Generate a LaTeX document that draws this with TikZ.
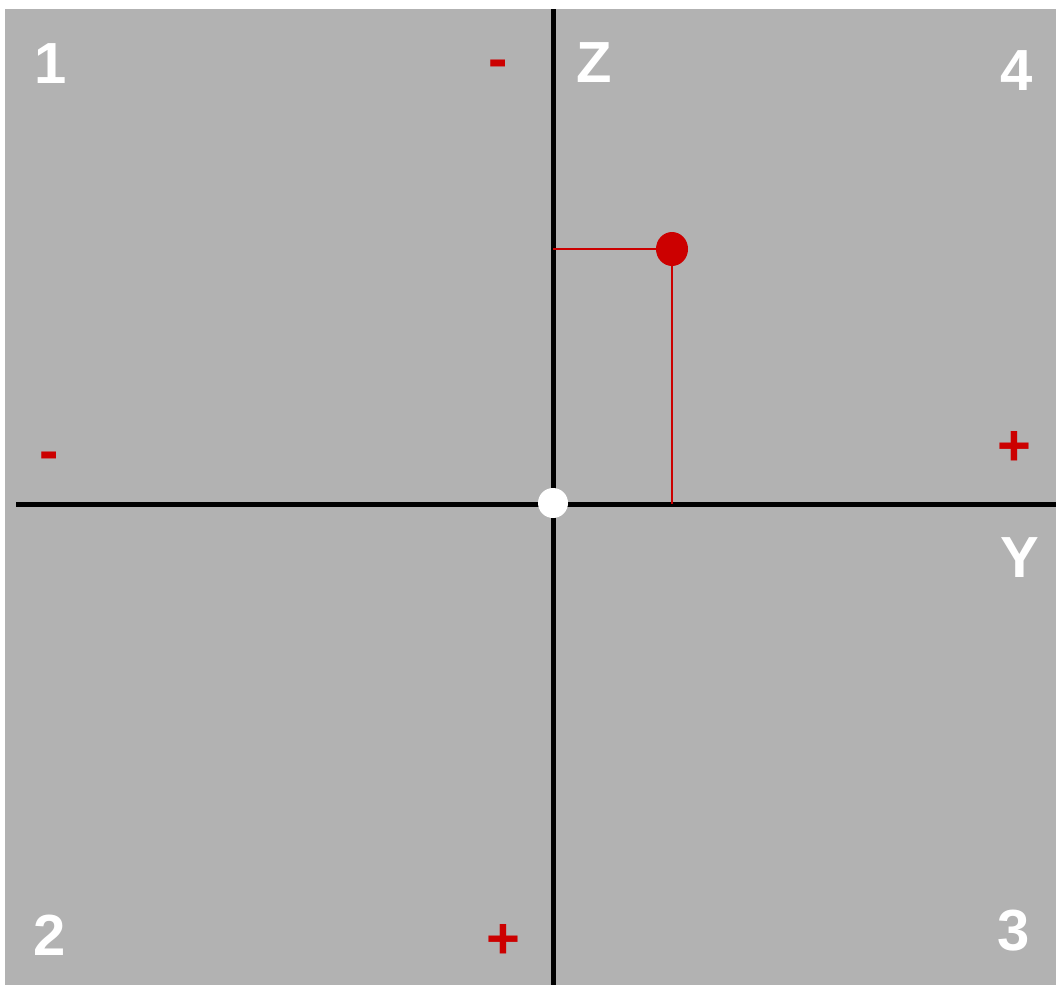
\documentclass[tikz,border=0pt]{standalone}
\usepackage{fontspec}
\setmainfont{Liberation Sans}
\usetikzlibrary{shapes.geometric}
\definecolor{nen}{RGB}{178,178,178}
\definecolor{do}{RGB}{204,0,0}
\begin{document}
\begin{tikzpicture}[
  x=1pt, y=-1pt,
  num/.style={anchor=base, inner sep=0pt, text=white,
              font=\fontsize{58}{60}\selectfont\bfseries},
  sign/.style={anchor=base, inner sep=0pt, text=do,
               font=\fontsize{58}{60}\selectfont\bfseries},
  axis/.style={line width=5pt, black},
  proj/.style={line width=2.5pt, do},
]
\useasboundingbox (0,0) rectangle (1056,985);
% Nền xám
\fill[nen] (5,9) rectangle (1056,985);

% Trục
\coordinate (ztop) at (553,9);
\coordinate (zbot) at (553,985);
\coordinate (yleft) at (16,504);
\coordinate (yright) at (1056,504);
\draw[axis] (ztop) -- (zbot);
\draw[axis] (yleft) -- (yright);

% Điểm và hình chiếu
\coordinate (pz) at (553,249);
\coordinate (py) at (672,504);
\node[ellipse, fill=do, minimum width=32pt, minimum height=34pt,
      inner sep=0pt] (pt) at (672,249) {};
\draw[proj] (pt.west) -- (pz);
\draw[proj] (pt.south) -- (py);
\node[circle, fill=white, inner sep=0pt, minimum size=30pt] (o) at (553,503) {};

% Nhãn góc phần tư và trục
\node[num] (q1) at (51,83) {1};
\node[num] (q2) at (50,955) {2};
\node[num] (q3) at (1014,950) {3};
\node[num] (q4) at (1017,90) {4};
\node[num] (lz) at (594,82) {Z};
\node[num] (ly) at (1020,577) {Y};

% Dấu
\node[sign] (mtop) at (498,78) {-};
\node[sign] (mleft) at (49,470) {-};
\node[sign] (pright) at (1014,465) {+};
\node[sign] (pbot) at (503,958) {+};
\end{tikzpicture}
\end{document}
